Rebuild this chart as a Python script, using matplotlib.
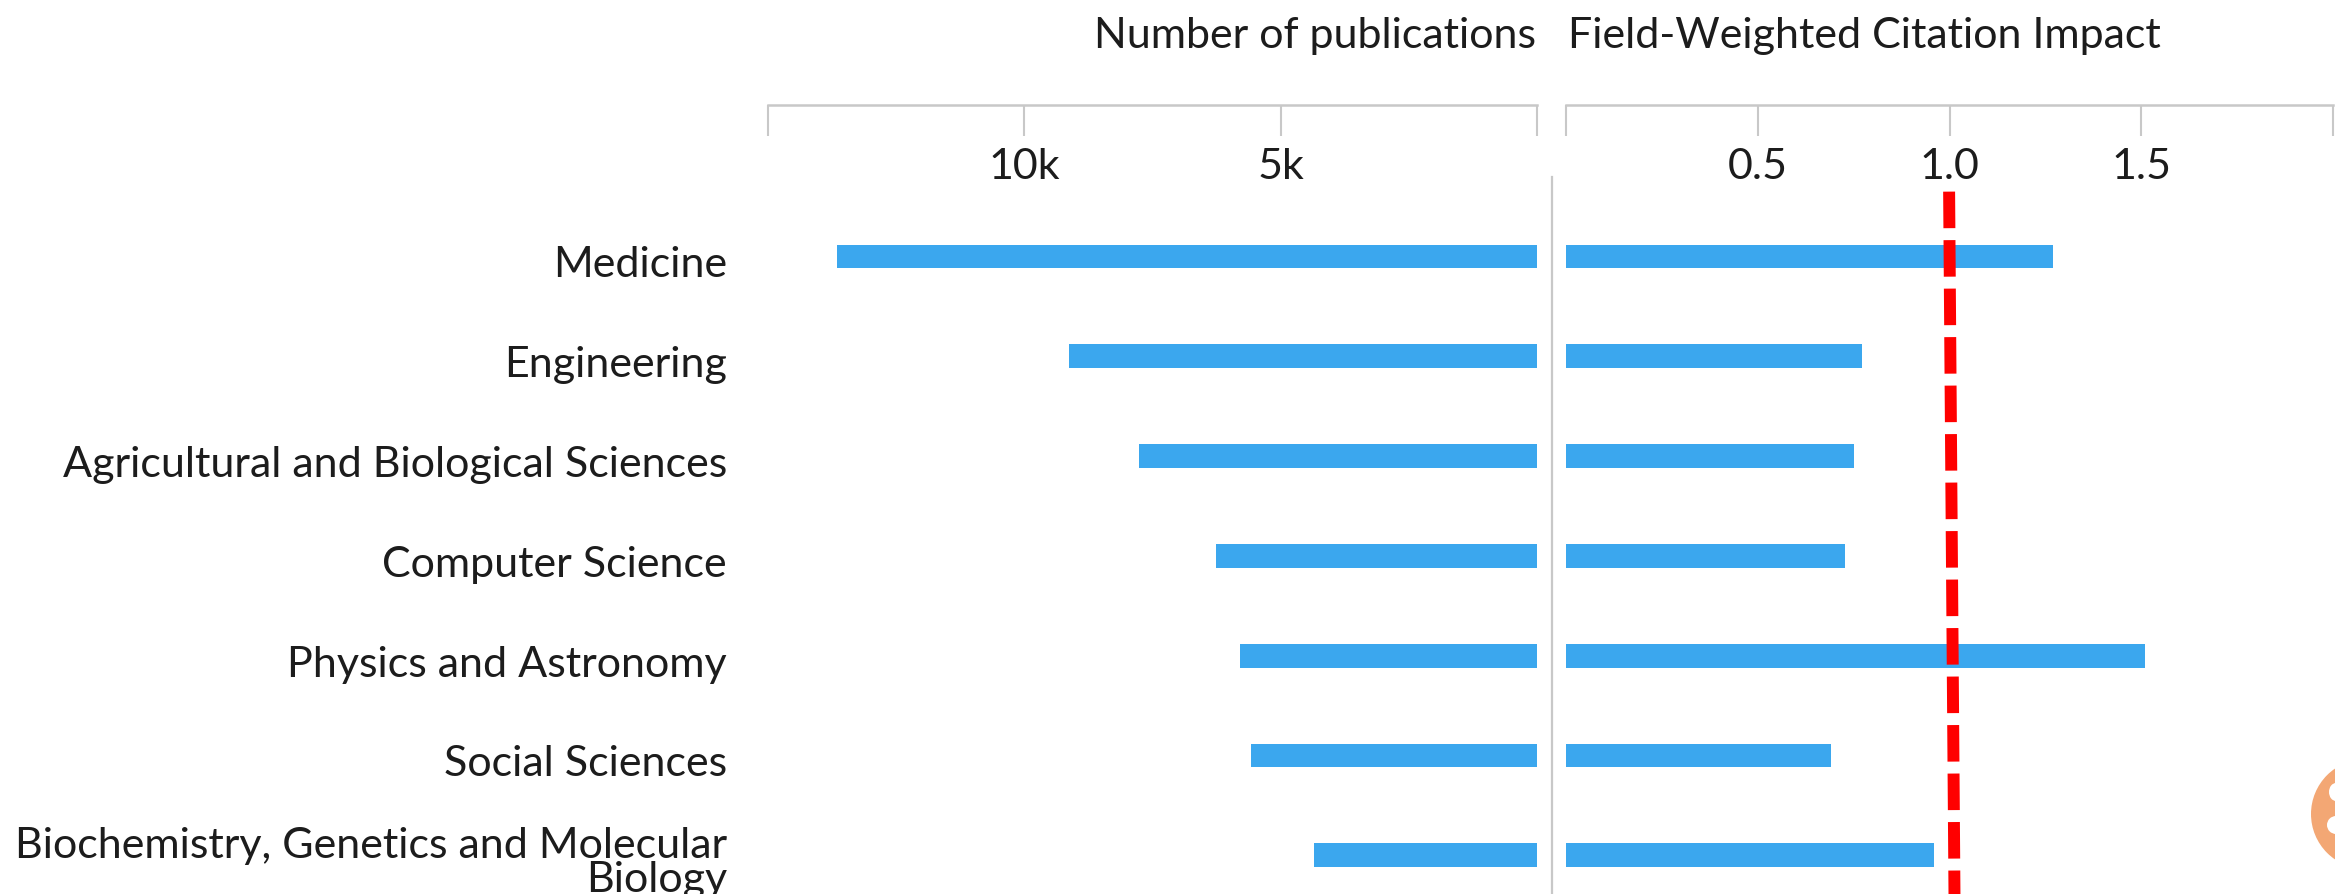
import matplotlib
matplotlib.use("Agg")
import matplotlib.pyplot as plt
from matplotlib.patches import Circle, Ellipse

categories = ["Medicine", "Engineering", "Agricultural and Biological Sciences",
              "Computer Science", "Physics and Astronomy", "Social Sciences",
              "Biochemistry, Genetics and Molecular\nBiology"]
publications = [13660, 9130, 7770, 6260, 5800, 5570, 4350]
fwci = [1.278, 0.781, 0.758, 0.736, 1.518, 0.698, 0.968]
pub_ticks = [15000, 10000, 5000, 0]
pub_labels = ["", "10k", "5k", ""]
fwci_ticks = [0, 0.5, 1.0, 1.5, 2.0]
fwci_labels = ["", "0.5", "1.0", "1.5", ""]
line_x = [0.999, 1.013]
line_y = [-0.65, 6.4]

W, H = 2335, 894
BLUE = "#3ba7ee"
GREY = "#c8c8c8"
TEXT = "#1c1c1c"
FS = 31

plt.rcParams['font.family'] = ['Lato', 'DejaVu Sans']
fig = plt.figure(figsize=(W / 100, H / 100), dpi=100)


def make_axes(x0, x1, y0, y1):
    # pixel box, y measured from the top
    return fig.add_axes([x0 / W, 1 - y1 / H, (x1 - x0) / W, (y1 - y0) / H])


# y limits chosen so that row i sits at 256.5 + 99.8 * i pixels
ylim = ((894 - 256.5) / 99.8, (105 - 256.5) / 99.8)

left = make_axes(768, 1537, 105, 894)
left.barh(range(len(categories)), publications, height=0.24, color=BLUE)
left.set_xlim(15000, 0)
left.set_ylim(ylim)

right = make_axes(1566, 2333, 105, 894)
right.barh(range(len(categories)), fwci, left=-0.008, height=0.24, color=BLUE)
right.set_xlim(0, 2)
right.set_ylim(ylim)
right.plot(line_x, line_y, color="#ff0000", lw=8.6, dashes=(3.06, 1.0),
           dash_capstyle="butt", clip_on=False)

for ax, ticks, labels in [(left, pub_ticks, pub_labels), (right, fwci_ticks, fwci_labels)]:
    ax.patch.set_alpha(0)
    for s in ["left", "right", "bottom"]:
        ax.spines[s].set_visible(False)
    ax.spines["top"].set_color(GREY)
    ax.spines["top"].set_linewidth(1.8)
    ax.xaxis.tick_top()
    ax.set_xticks(ticks)
    ax.set_xticklabels(labels, fontsize=FS, color=TEXT)
    ax.tick_params(axis="x", direction="in", length=22, width=1.5, color=GREY, pad=-58)
    ax.set_yticks([])

# category names, right aligned against the plot; offsets are baseline shifts in pixels
for i, name in enumerate(categories):
    lines = name.split("\n")
    shift = 21 if len(lines) == 1 else 3
    for line in lines:
        left.annotate(line, (0, i), xycoords=("figure pixels", "data"), xytext=(727, -shift),
                      textcoords=("figure pixels", "offset pixels"), ha="right", va="baseline",
                      fontsize=FS, color=TEXT, annotation_clip=False)
        shift += 34

fig.text(1536 / W, 1 - 48 / H, "Number of publications", ha="right", va="baseline",
         fontsize=FS, color=TEXT)
fig.text(1568 / W, 1 - 48 / H, "Field-Weighted Citation Impact", ha="left", va="baseline",
         fontsize=FS, color=TEXT)

# overlay in pixel coordinates for the separator and the clipped badge
over = fig.add_axes([0, 0, 1, 1])
over.set_xlim(0, W)
over.set_ylim(H, 0)
over.axis("off")
over.patch.set_alpha(0)
over.plot([1552, 1552], [177, 894], color=GREY, lw=1.6)
over.add_patch(Circle((2366, 814), 55, color="#f3a774", lw=0))
over.add_patch(Ellipse((2336, 792), 14, 18, color="white", lw=0))
over.add_patch(Ellipse((2336, 825), 18, 18, color="white", lw=0))

fig.savefig("out.png", dpi=100)
